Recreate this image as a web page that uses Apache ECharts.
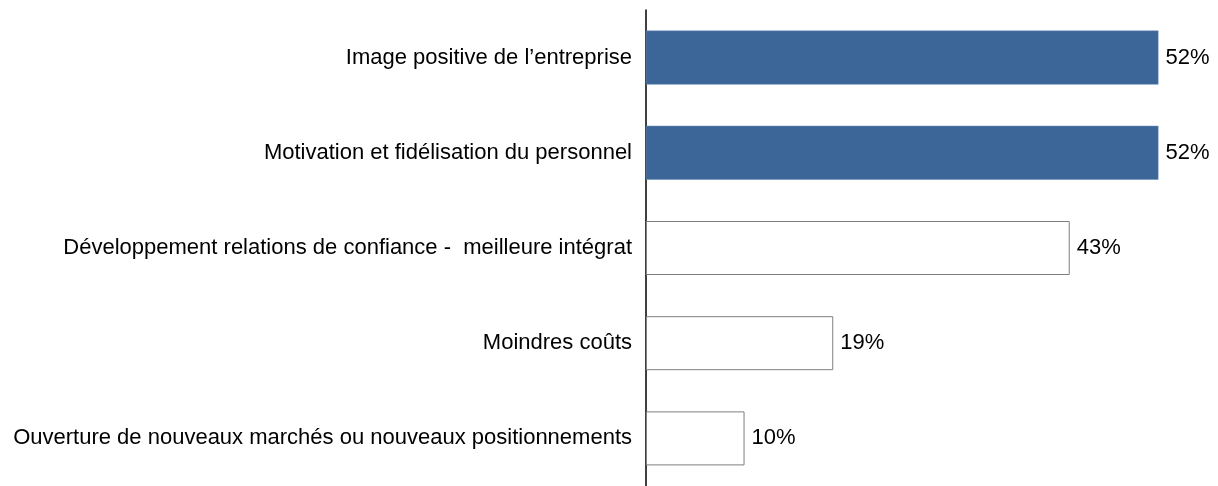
<!DOCTYPE html>
<html>
<head>
<meta charset="utf-8">
<script src="https://cdn.jsdelivr.net/npm/echarts@6/dist/echarts.min.js"></script>
<style>
  html, body { margin: 0; padding: 0; background: #fff; }
  #chart { width: 1218px; height: 486px; }
</style>
</head>
<body>
<div id="chart"></div>
<script>
// Categories, top to bottom
const categories = [
  "Image positive de l\u2019entreprise",
  "Motivation et fidélisation du personnel",
  "Développement relations de confiance -  meilleure intégrat",
  "Moindres coûts",
  "Ouverture de nouveaux marchés ou nouveaux positionnements"
];
// Share of respondents (%)
const values = [52, 52, 43, 19, 10];
// Which bars are highlighted (filled blue)
const highlighted = [true, true, false, false, false];

const BLUE = '#3c6698';
const OUTLINE = '#7f7f7f';
const FONT = 'Liberation Sans, Arial, sans-serif';

const seriesData = values.map((v, i) => ({
  value: v,
  itemStyle: highlighted[i]
    ? { color: BLUE, borderColor: '#6a8cb8', borderWidth: 0.5 }
    : { color: '#ffffff', borderColor: OUTLINE, borderWidth: 1 }
}));

const chart = echarts.init(document.getElementById('chart'), null, { renderer: 'canvas' });
chart.setOption({
  animation: false,
  backgroundColor: '#ffffff',
  textStyle: { fontFamily: FONT },
  grid: { left: 646, top: 10, width: 542, height: 480 },
  xAxis: {
    type: 'value',
    min: 0,
    max: 55,
    show: false
  },
  yAxis: {
    type: 'category',
    inverse: true,
    data: categories,
    axisLine: { show: true, lineStyle: { color: '#000000', width: 1.5 } },
    axisTick: { show: false },
    axisLabel: {
      margin: 14,
      color: '#000000',
      fontSize: 22,
      fontFamily: FONT
    }
  },
  series: [{
    type: 'bar',
    data: seriesData,
    barWidth: 54,
    label: {
      show: true,
      position: 'right',
      distance: 7,
      formatter: p => p.value + '%',
      color: '#000000',
      fontSize: 22,
      fontFamily: FONT
    }
  }]
});
</script>
</body>
</html>
